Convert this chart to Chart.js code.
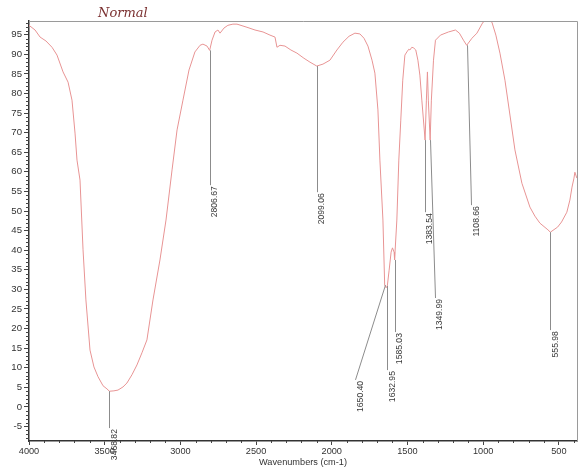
<!DOCTYPE html>
<html><head><meta charset="utf-8">
<script src="https://cdn.jsdelivr.net/npm/chart.js@4"></script>
<style>html,body{margin:0;padding:0;background:#fff}#wrap{width:583px;height:467px;position:relative}</style>
</head><body><div id="wrap"><canvas id="c" width="583" height="467"></canvas></div>
<script>
// ---- data ----
const wavenumbers = [4000,3960,3927,3888,3848,3815,3775,3742,3716,3696,3683,3663,3643,3624,3597,3571,3544,3511,3485,3468.82,3439,3412,3379,3353,3320,3287,3254,3221,3181,3135,3095,3055,3022,2983,2943,2904,2870,2851,2824,2806.67,2791,2771,2752,2738,2712,2686,2653,2626,2560,2507,2454,2408,2375,2362,2342,2309,2270,2230,2184,2144,2099.06,2058,2012,1966,1926,1886,1847,1814,1787,1761,1734,1715,1695,1682,1662,1650.40,1641,1632.95,1621,1608,1599,1588,1585.03,1570,1557,1544,1531,1517,1504,1491,1484,1471,1458,1445,1431,1418,1405,1383.54,1375,1368,1362,1349.99,1342,1328,1315,1282,1229,1183,1157,1130,1108.66,1074,1041,1001,968,942,916,889,856,823,790,744,691,658,625,572,555.98,508,482,447,427,413,400,394,381];
const transmittance = [97.4,96.2,94.4,93.4,91.8,89.8,85.5,82.9,78.3,69.9,63.0,57.9,40.1,27.3,14.5,10.2,7.7,5.4,4.6,4.0,4.1,4.3,5.1,6.1,8.2,10.7,13.8,17.1,27.3,37.5,47.7,60.5,70.7,78.3,86.0,90.6,92.3,92.6,92.1,91.0,93.6,95.7,96.2,95.4,96.7,97.4,97.7,97.7,96.9,96.2,95.7,94.9,94.4,91.8,92.3,92.1,91.1,90.3,89.0,88.0,87.0,87.5,88.5,91.1,93.1,94.6,95.4,95.2,94.1,92.1,88.5,85.2,75.8,63.0,47.7,31.1,30.4,30.9,34.9,39.5,40.6,39.5,37.5,47.7,63.0,73.2,83.4,89.8,90.6,91.3,91.1,91.8,91.6,91.1,88.5,84.7,78.3,68.1,78.3,85.5,78.3,68.1,78.3,88.5,93.6,94.9,95.7,96.2,95.4,93.6,92.3,94.1,95.4,98.2,98.9,98.2,94.9,90.3,83.4,74.5,65.6,57.1,51.0,48.7,46.9,45.2,44.6,45.9,47.2,49.7,52.8,56.1,58.4,59.9,58.4];
const peakWavenumbers = [3468.82,2806.67,2099.06,1650.40,1632.95,1585.03,1383.54,1349.99,1108.66,555.98];
const peakTransmittance = [4.0,91.0,87.0,31.1,30.9,37.5,68.1,68.1,92.3,44.6];
const peakLabels = ["3468.82","2806.67","2099.06","1650.40","1632.95","1585.03","1383.54","1349.99","1108.66","555.98"];
const xTickValues = [4000,3500,3000,2500,2000,1500,1000,500];
const yTickValues = [-5,0,5,10,15,20,25,30,35,40,45,50,55,60,65,70,75,80,85,90,95];

// ---- label placement (where each leader line ends, in axis units) ----
const leaderEnds = [
  {wn:3468.82,t:-5.4},{wn:2806.67,t:56.6},{wn:2099.06,t:54.8},{wn:1845,t:6.9},
  {wn:1632.95,t:9.4},{wn:1585.03,t:19.1},{wn:1383.54,t:49.7},{wn:1320,t:27.8},
  {wn:1079,t:51.5},{wn:555.98,t:19.6}
];

const FONT = '"Liberation Sans", Arial, sans-serif';

const framePlugin = {
  id:'frame',
  afterDraw(chart){
    const {ctx, chartArea:a, scales:{x, y}} = chart;
    ctx.save();
    ctx.strokeStyle = '#9a9a9a'; ctx.lineWidth = 1;
    ctx.beginPath();
    ctx.moveTo(a.left, a.top+0.5); ctx.lineTo(a.right+0.5, a.top+0.5); ctx.lineTo(a.right+0.5, a.bottom);
    ctx.stroke();
    ctx.strokeStyle = '#444'; ctx.lineWidth = 1;
    ctx.beginPath();
    for (let v = Math.ceil(y.min); v <= y.max; v++) {
      if (v % 5 === 0) continue;
      const py = Math.round(y.getPixelForValue(v)) + 0.5;
      ctx.moveTo(a.left - 3, py); ctx.lineTo(a.left, py);
    }
    for (let v = 400; v <= 4000; v += 100) {
      if (v % 500 === 0) continue;
      const px = Math.round(x.getPixelForValue(v)) + 0.5;
      ctx.moveTo(px, a.bottom); ctx.lineTo(px, a.bottom + 2);
    }
    ctx.stroke();
    ctx.strokeStyle = '#8c8c8c'; ctx.lineWidth = 1;
    ctx.fillStyle = '#3a3a3a';
    ctx.font = '8.6px ' + FONT;
    peakWavenumbers.forEach((wn, i) => {
      const x1 = x.getPixelForValue(wn), y1 = y.getPixelForValue(peakTransmittance[i]);
      const e = leaderEnds[i];
      const x2 = x.getPixelForValue(e.wn), y2 = y.getPixelForValue(e.t);
      ctx.beginPath();
      ctx.moveTo(Math.round(x1)+0.5, y1); ctx.lineTo(Math.round(x2)+0.5, y2);
      ctx.stroke();
      ctx.save();
      ctx.translate(x2 + 5, y2 + 1);
      ctx.rotate(-Math.PI/2);
      ctx.textAlign = 'right'; ctx.textBaseline = 'middle';
      ctx.fillText(peakLabels[i], 0, 0);
      ctx.restore();
    });
    ctx.fillStyle = '#7a3030';
    ctx.font = 'italic 13px "DejaVu Serif", serif';
    ctx.textAlign = 'left'; ctx.textBaseline = 'middle';
    ctx.fillText('Normal', 98, 14);
    ctx.restore();
  }
};

new Chart(document.getElementById('c'), {
  type: 'line',
  data: {
    datasets: [{
      data: wavenumbers.map((w, i) => ({x: w, y: transmittance[i]})),
      borderColor: 'rgb(232,148,148)',
      borderWidth: 1,
      pointRadius: 0,
      tension: 0,
      fill: false
    }]
  },
  options: {
    responsive: false,
    animation: false,
    devicePixelRatio: 1,
    layout: {padding: {top: 21, right: 6, left: 0, bottom: 0}},
    plugins: {legend: {display: false}, tooltip: {enabled: false}, title: {display: false}},
    scales: {
      x: {
        type: 'linear', reverse: true, min: 380, max: 4000,
        afterBuildTicks: s => { s.ticks = xTickValues.map(v => ({value: v})); },
        afterFit: s => { s.height = 26; },
        grid: {drawOnChartArea: false, drawTicks: true, tickLength: 4, color: '#444'},
        border: {display: true, color: '#333', width: 1.5},
        ticks: {color: '#333', font: {family: FONT, size: 9.2}, padding: 1, maxRotation: 0, autoSkip: false, callback: v => String(v)},
        title: {display: true, text: 'Wavenumbers (cm-1)', color: '#333', font: {family: FONT, size: 9.2, lineHeight: 1}, padding: {top: 0, bottom: 0}}
      },
      y: {
        type: 'linear', min: -8.7, max: 98.5,
        afterBuildTicks: s => { s.ticks = yTickValues.map(v => ({value: v})); },
        afterFit: s => { s.width = 29; },
        grid: {drawOnChartArea: false, drawTicks: true, tickLength: 5, color: '#444'},
        border: {display: true, color: '#333', width: 1.5},
        ticks: {color: '#333', font: {family: FONT, size: 9.6}, padding: 2, autoSkip: false, callback: v => String(v)}
      }
    }
  },
  plugins: [framePlugin]
});
</script>
</body></html>
